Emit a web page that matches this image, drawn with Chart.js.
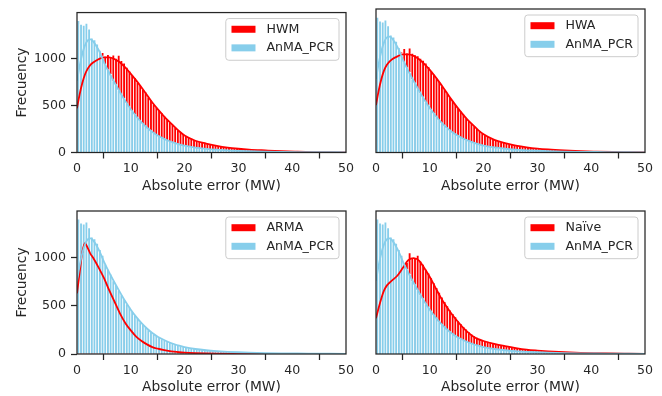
<!DOCTYPE html>
<html>
<head>
<meta charset="utf-8">
<script src="https://cdn.jsdelivr.net/npm/chart.js@4.4.1/dist/chart.umd.min.js"></script>
<style>
  html, body { margin: 0; padding: 0; background: #fff; }
  body { width: 662px; height: 396px; position: relative; overflow: hidden; }
  canvas { position: absolute; }
</style>
</head>
<body>
<canvas id="c0" width="360" height="198" style="left:0;top:0;width:360px;height:198px"></canvas>
<canvas id="c1" width="302" height="198" style="left:360px;top:0;width:302px;height:198px"></canvas>
<canvas id="c2" width="360" height="198" style="left:0;top:198px;width:360px;height:198px"></canvas>
<canvas id="c3" width="302" height="198" style="left:360px;top:198px;width:302px;height:198px"></canvas>
<script>
// ===== Data (histogram bins of 0.5 MW starting at 0, KDE curves sampled at kdeX)
const binWidth = 0.5;
const xTicks = [0, 10, 20, 30, 40, 50];
const yTicks = [0, 500, 1000];
const kdeX = [0, 0.5, 1, 1.5, 2, 2.5, 3, 4, 5, 6, 7, 8, 9, 10, 11, 12, 13, 14, 15, 16, 17, 18, 19, 20,
  22, 24, 26, 28, 30, 32, 35, 38, 41, 44, 47, 50];

const anmaHist = [
  1400, 1360, 1350, 1370, 1310, 1215, 1195, 1150, 1085, 1025,
  935, 880, 830, 760, 720, 660, 615, 575, 520, 485,
  440, 405, 370, 335, 305, 282, 250, 232, 208, 190,
  172, 158, 145, 132, 120, 110, 100, 92, 84, 77,
  70, 65, 60, 55, 51, 47, 44, 41, 38, 36,
  34, 32, 30, 28, 26, 25, 23, 22, 21, 19,
  18, 17, 16, 15, 14, 13, 12, 12, 11, 10,
  10, 9, 9, 8, 8, 7, 7, 6, 6, 6,
  5, 5, 5, 4, 4, 4, 4, 3, 3, 3,
  3, 3, 2, 2, 2, 2, 2, 2, 2, 2];
const anmaKde = [760, 920, 1050, 1140, 1190, 1200, 1180, 1090, 960, 845, 740, 640, 545, 460, 385, 320, 265,
  218, 180, 150, 125, 104, 86, 72, 52, 39, 30, 23, 18, 14, 10, 7, 5, 4, 3, 2];

const hwmHist = [
  560, 700, 790, 850, 895, 930, 955, 975, 990, 1060,
  1020, 1040, 1010, 1035, 1000, 1030, 975, 950, 905, 865,
  825, 795, 745, 715, 668, 640, 588, 555, 512, 480,
  450, 420, 385, 350, 322, 295, 268, 240, 218, 195,
  178, 162, 150, 138, 126, 116, 108, 101, 95, 89,
  84, 78, 73, 68, 64, 60, 56, 52, 49, 46,
  43, 40, 38, 35, 33, 31, 29, 27, 26, 24,
  22, 21, 19, 18, 17, 15, 14, 13, 12, 11,
  10, 9, 9, 8, 7, 6, 6, 5, 5, 4,
  4, 3, 3, 3, 2, 2, 2, 1, 1, 1];
const hwmKde = [470, 620, 740, 830, 890, 930, 955, 990, 1010, 1010, 990, 955, 900, 835, 765, 690, 610,
  530, 460, 395, 335, 280, 225, 180, 125, 95, 70, 52, 40, 31, 22, 14, 9, 5, 3, 1];

const hwaHist = [
  580, 710, 800, 860, 905, 940, 960, 980, 995, 1040,
  1075, 1030, 1080, 1025, 1010, 1000, 975, 955, 925, 890,
  845, 810, 770, 735, 690, 655, 610, 570, 535, 495,
  462, 428, 395, 360, 330, 302, 275, 248, 225, 200,
  182, 166, 153, 141, 129, 119, 111, 104, 97, 91,
  85, 79, 74, 69, 65, 61, 57, 53, 50, 47,
  44, 41, 38, 36, 34, 32, 30, 28, 26, 24,
  23, 21, 20, 18, 17, 16, 14, 13, 12, 11,
  10, 9, 9, 8, 7, 7, 6, 5, 5, 4,
  4, 3, 3, 3, 2, 2, 2, 1, 1, 1];
const hwaKde = [490, 640, 760, 850, 905, 940, 965, 995, 1015, 1015, 1000, 965, 915, 855, 785, 710, 630,
  550, 475, 405, 340, 285, 232, 188, 130, 97, 72, 54, 41, 32, 22, 14, 9, 5, 3, 1];

const armaHist = [
  1000, 1140, 1180, 1150, 1080, 1030, 990, 950, 900, 850,
  800, 740, 670, 600, 540, 480, 425, 372, 325, 285,
  245, 210, 180, 155, 133, 115, 100, 86, 74, 64,
  55, 48, 42, 36, 32, 28, 24, 21, 18, 16,
  14, 12, 11, 10, 9, 8, 7, 6, 6, 5,
  5, 4, 4, 4, 3, 3, 3, 3, 2, 2,
  2, 2, 2, 1, 1, 1, 1, 1, 1, 1,
  1, 1, 1, 1, 1, 0, 0, 0, 0, 0,
  0, 0, 0, 0, 0, 0, 0, 0, 0, 0,
  0, 0, 0, 0, 0, 0, 0, 0, 0, 0];
const armaKde = [630, 850, 1060, 1150, 1100, 1040, 1000, 900, 790, 660, 540, 420, 320, 245, 180, 135, 100,
  72, 55, 42, 32, 24, 18, 14, 9, 6, 4, 3, 2, 2, 1, 1, 1, 0, 0, 0];

const naiveHist = [
  420, 530, 610, 680, 720, 750, 775, 800, 830, 870,
  900, 950, 1050, 990, 1000, 1025, 965, 930, 880, 840,
  790, 740, 690, 640, 590, 545, 500, 455, 420, 385,
  345, 315, 285, 258, 230, 208, 188, 172, 160, 150,
  140, 132, 124, 116, 108, 102, 96, 90, 84, 78,
  75, 70, 65, 61, 57, 53, 49, 46, 43, 40,
  37, 35, 33, 31, 29, 27, 25, 23, 22, 20,
  19, 18, 16, 15, 14, 13, 12, 11, 10, 9,
  9, 8, 7, 7, 6, 6, 5, 5, 4, 4,
  3, 3, 3, 2, 2, 2, 2, 1, 1, 1];
const naiveKde = [370, 480, 580, 660, 710, 740, 765, 815, 895, 975, 995, 970, 890, 800, 695, 590, 500,
  420, 350, 285, 230, 185, 155, 135, 105, 82, 62, 46, 36, 28, 19, 12, 8, 5, 3, 1];

// ===== Style
const RED = '#ff0000';
const BLUE = '#87ceeb';
const INK = '#262626';
const FONT = '"DejaVu Sans", sans-serif';
const FS_TICK = 12.6;
const FS_LABEL = 13.8;
const Y_MAX = 1485;

const panels = [
  { id: 'c0', name: 'HWM', hist: hwmHist, kde: hwmKde, left: true, top: true },
  { id: 'c1', name: 'HWA', hist: hwaHist, kde: hwaKde, left: false, top: true },
  { id: 'c2', name: 'ARMA', hist: armaHist, kde: armaKde, left: true, top: false },
  { id: 'c3', name: 'Naïve', hist: naiveHist, kde: naiveKde, left: false, top: false },
];

// ===== Utils
const toBins = vals => vals.map((v, i) => ({ x: i * binWidth + binWidth / 2, y: v }));
const toCurve = vals => vals.map((v, i) => ({ x: kdeX[i], y: v }));

// frame round the plot + boxed legend, matplotlib style
const frameLegend = {
  id: 'frameLegend',
  afterDraw(chart, args, opts) {
    const { ctx, chartArea: a } = chart;
    ctx.save();
    ctx.strokeStyle = INK;
    ctx.lineWidth = 1.25;
    ctx.strokeRect(a.left, a.top, a.right - a.left, a.bottom - a.top);

    const items = opts.items || [];
    ctx.font = `${FS_TICK}px ${FONT}`;
    const textW = Math.max(...items.map(it => ctx.measureText(it.label).width));
    const w = 5.7 + 24 + 11 + textW + 5;
    const h = 41.7;
    const x = a.right - 7 - w, y = a.top + 6;
    ctx.beginPath();
    ctx.roundRect(x, y, w, h, 3);
    ctx.fillStyle = 'rgba(255,255,255,0.8)';
    ctx.fill();
    ctx.strokeStyle = '#cccccc';
    ctx.lineWidth = 1;
    ctx.stroke();
    items.forEach((it, i) => {
      const cy = y + 10.7 + i * 18.6;
      ctx.fillStyle = it.color;
      ctx.fillRect(x + 5.7, cy - 3.5, 24, 7);
      ctx.fillStyle = INK;
      ctx.textBaseline = 'middle';
      ctx.textAlign = 'left';
      ctx.fillText(it.label, x + 5.7 + 35, cy);
    });
    ctx.restore();
  }
};

function makePanel(p) {
  const el = document.getElementById(p.id);
  const tickGrid = { display: true, drawOnChartArea: false, drawTicks: true, tickLength: 6, tickWidth: 1.25, tickColor: INK };
  return new Chart(el, {
    type: 'bar',
    data: {
      datasets: [
        { type: 'line', label: 'AnMA_PCR kde', data: toCurve(anmaKde), borderColor: BLUE, borderWidth: 1.8,
          pointRadius: 0, cubicInterpolationMode: 'monotone', order: 1 },
        { type: 'line', label: p.name + ' kde', data: toCurve(p.kde), borderColor: RED, borderWidth: 1.8,
          pointRadius: 0, cubicInterpolationMode: 'monotone', order: 2 },
        { label: 'AnMA_PCR', data: toBins(anmaHist), backgroundColor: BLUE, borderColor: '#ffffff',
          borderWidth: 0.75, order: 3 },
        { label: p.name, data: toBins(p.hist), backgroundColor: RED, borderColor: '#ffffff',
          borderWidth: 0.75, order: 4 },
      ]
    },
    options: {
      responsive: false,
      animation: false,
      events: [],
      layout: { padding: { left: 0, top: p.top ? 9 : 13, right: p.left ? 14 : 17, bottom: 0 } },
      datasets: { bar: { grouped: false, barPercentage: 1, categoryPercentage: 1 } },
      plugins: {
        legend: { display: false },
        tooltip: { enabled: false },
        frameLegend: { items: [{ label: p.name, color: RED }, { label: 'AnMA_PCR', color: BLUE }] }
      },
      scales: {
        x: {
          type: 'linear', min: 0, max: 50, offset: false,
          afterBuildTicks: s => { s.ticks = xTicks.map(v => ({ value: v })); },
          afterFit: s => { s.height = p.top ? 45.5 : 42; },
          grid: tickGrid,
          border: { display: false },
          ticks: { font: { family: FONT, size: FS_TICK }, color: INK, padding: 3, maxRotation: 0, autoSkip: false,
            callback: v => String(v) },
          title: { display: true, text: 'Absolute error (MW)', color: INK,
            font: { family: FONT, size: FS_LABEL }, padding: { top: 0, bottom: p.top ? 3.5 : 0 } }
        },
        y: {
          type: 'linear', min: 0, max: Y_MAX,
          afterBuildTicks: s => { s.ticks = yTicks.map(v => ({ value: v })); },
          afterFit: s => { s.width = p.left ? 77 : 16; },
          grid: p.left ? tickGrid : { display: false },
          border: { display: false },
          ticks: { display: p.left, font: { family: FONT, size: FS_TICK }, color: INK, padding: 5,
            callback: v => String(v) },
          title: { display: p.left, text: 'Frecuency', color: INK,
            font: { family: FONT, size: FS_LABEL }, padding: { top: 13.7, bottom: 0 } }
        }
      }
    },
    plugins: [frameLegend]
  });
}

panels.forEach(makePanel);
</script>
</body>
</html>
